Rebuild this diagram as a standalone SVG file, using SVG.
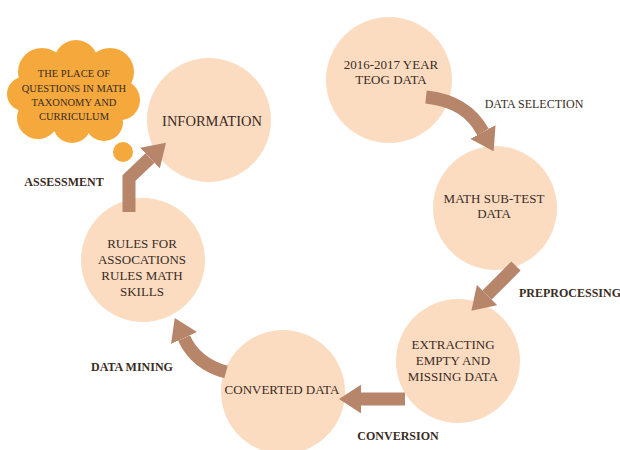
<svg xmlns="http://www.w3.org/2000/svg" width="620" height="450" viewBox="0 0 620 450">
  <style>
    .node { fill: #FCDCC1; }
    .cloud { fill: #F5A93C; }
    .arrow { fill: none; stroke: #B7866A; stroke-width: 13; stroke-linecap: butt; stroke-linejoin: miter; }
    text { font-family: "Liberation Serif", "Times New Roman", serif; fill: #3A2B24; text-anchor: middle; }
    .lbl { font-size: 13px; }
    .big { font-size: 14.5px; }
    .small { font-size: 10.5px; }
    .step { font-size: 12px; font-weight: bold; }
    .plain { font-size: 12px; }
  </style>
  <defs>
    <marker id="head" markerUnits="strokeWidth" markerWidth="1.7" markerHeight="2.2" viewBox="0 0 17 22" refX="0" refY="11" orient="auto">
      <path d="M0,0 L17,11 L0,22 z" fill="#B7866A"/>
    </marker>
  </defs>

  <rect width="620" height="450" fill="#FFFFFF"/>

  <!-- thought bubble with the curriculum note -->
  <g id="cloud">
    <g class="cloud">
      <circle cx="42" cy="72" r="24"/>
      <circle cx="76" cy="62" r="22"/>
      <circle cx="110" cy="72" r="24"/>
      <circle cx="120" cy="100" r="20"/>
      <circle cx="104" cy="122" r="19"/>
      <circle cx="72" cy="124" r="19"/>
      <circle cx="38" cy="118" r="21"/>
      <circle cx="24" cy="94" r="17"/>
      <circle cx="74" cy="95" r="40"/>
    </g>
    <circle class="cloud" cx="123" cy="152" r="10"/>
    <text class="small" x="74" y="77">THE PLACE OF</text>
    <text class="small" x="74" y="92">QUESTIONS IN MATH</text>
    <text class="small" x="74" y="106">TAXONOMY AND</text>
    <text class="small" x="74" y="120">CURRICULUM</text>
  </g>

  <g id="n-teog">
    <circle class="node" cx="389" cy="80" r="63"/>
    <text class="lbl" x="391" y="69">2016-2017 YEAR</text>
    <text class="lbl" x="391" y="84">TEOG DATA</text>
  </g>

  <g id="n-subtest">
    <circle class="node" cx="495" cy="208" r="62"/>
    <text class="lbl" x="494" y="203">MATH SUB-TEST</text>
    <text class="lbl" x="494" y="218">DATA</text>
  </g>

  <g id="n-extract">
    <circle class="node" cx="458" cy="361" r="62"/>
    <text class="lbl" x="453" y="349">EXTRACTING</text>
    <text class="lbl" x="453" y="365">EMPTY AND</text>
    <text class="lbl" x="453" y="381">MISSING DATA</text>
  </g>

  <g id="n-converted">
    <circle class="node" cx="283" cy="392" r="62"/>
    <text class="lbl" x="282" y="394">CONVERTED DATA</text>
  </g>

  <g id="n-rules">
    <circle class="node" cx="143" cy="260" r="62"/>
    <text class="lbl" x="142" y="248">RULES FOR</text>
    <text class="lbl" x="142" y="264">ASSOCATIONS</text>
    <text class="lbl" x="142" y="280">RULES MATH</text>
    <text class="lbl" x="142" y="296">SKILLS</text>
  </g>

  <g id="n-information">
    <circle class="node" cx="209" cy="120" r="62"/>
    <text class="big" x="212" y="126">INFORMATION</text>
  </g>

  <g id="connectors">
    <path class="arrow" marker-end="url(#head)" d="M426,97 C455,100 472,112 483,132"/>
    <path class="arrow" marker-end="url(#head)" d="M516,266 L487,295"/>
    <path class="arrow" marker-end="url(#head)" d="M405,399 L361,399"/>
    <path class="arrow" marker-end="url(#head)" d="M226,372 Q196,364 184,338"/>
    <path class="arrow" marker-end="url(#head)" d="M129,212 L129,178 L150,158"/>
  </g>

  <g id="labels">
    <text class="plain" x="534" y="108">DATA SELECTION</text>
    <text class="step" x="519" y="297" style="text-anchor:start">PREPROCESSING</text>
    <text class="step" x="398" y="440">CONVERSION</text>
    <text class="step" x="132" y="371">DATA MINING</text>
    <text class="step" x="64" y="186">ASSESSMENT</text>
  </g>
</svg>
